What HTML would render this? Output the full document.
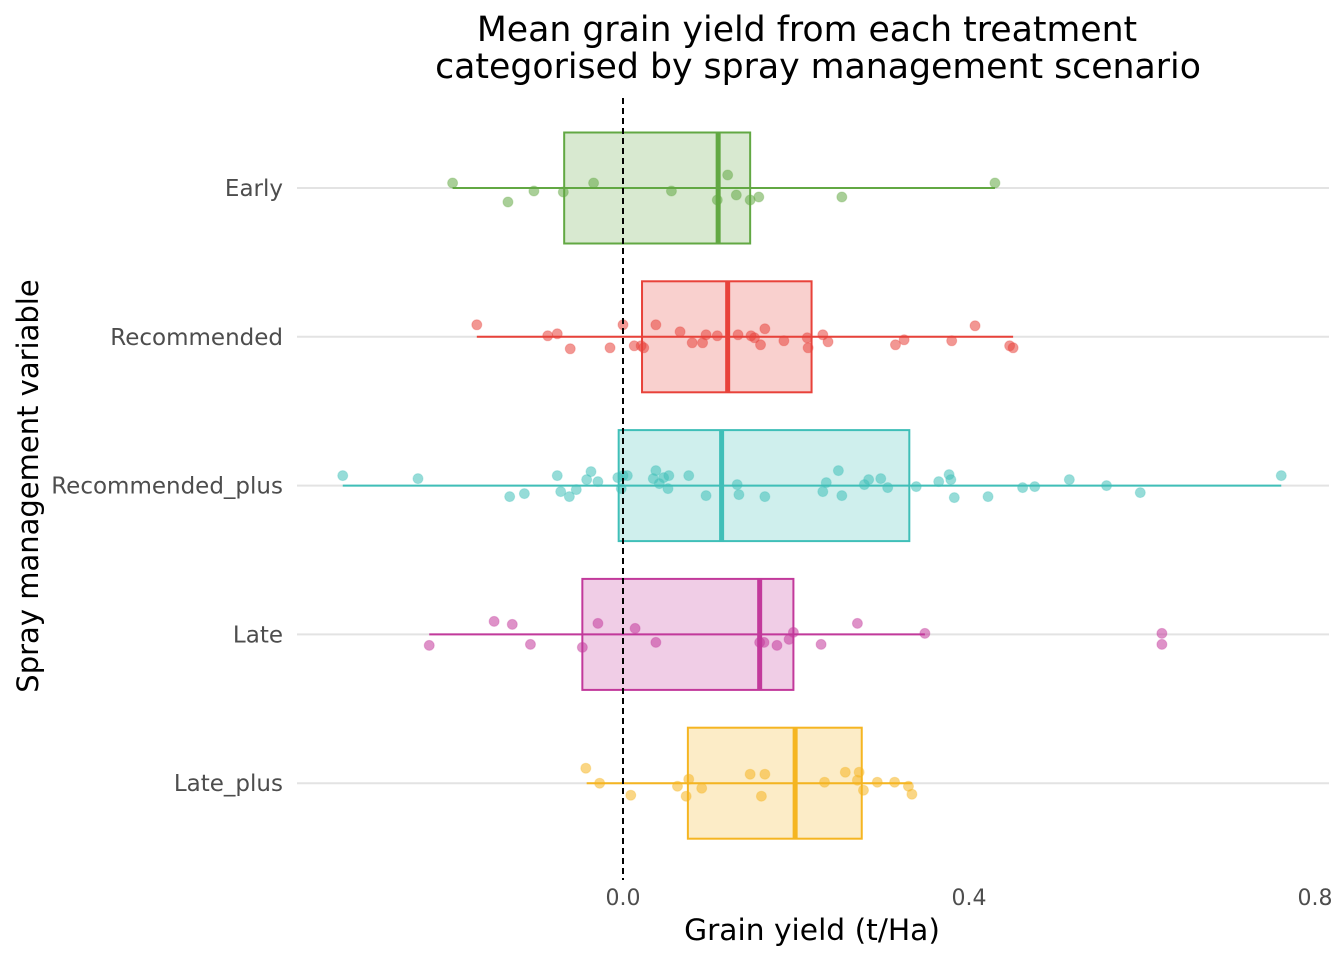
<!DOCTYPE html>
<html><head><meta charset="utf-8"><style>
body{margin:0;background:#fff}
svg{display:block;font-family:"DejaVu Sans","Liberation Sans",sans-serif}
</style></head><body>
<svg id="chart" width="1344" height="960">
<text x="807" y="41" font-size="34.7" text-anchor="middle" fill="#000">Mean grain yield from each treatment</text>
<text x="818" y="78" font-size="34.7" text-anchor="middle" fill="#000">categorised by spray management scenario</text>
<text transform="translate(38,486) rotate(-90)" font-size="29" text-anchor="middle" fill="#000">Spray management variable</text>
<text x="812" y="940" font-size="29.7" text-anchor="middle" fill="#000">Grain yield (t/Ha)</text>
<g id="grid"></g><g id="boxes"></g><g id="pts"></g><g id="labels"></g>
</svg>
<script>
const categories=["Early","Recommended","Recommended_plus","Late","Late_plus"];
const colors=["#62a843","#e8423a","#3fbfb8","#c2399b","#f5b521"];
const q1=[-0.068,0.022,-0.005,-0.047,0.075];
const medians=[0.110,0.121,0.114,0.158,0.199];
const q3=[0.147,0.218,0.331,0.197,0.276];
const whiskLo=[-0.197,-0.169,-0.324,-0.224,-0.042];
const whiskHi=[0.430,0.451,0.761,0.349,0.334];
const xTicks=[0.0,0.4,0.8];
const xTickLabels=["0.0","0.4","0.8"];
const ptsEarly=[-0.197,-0.133,-0.103,-0.069,-0.034,0.056,0.109,0.121,0.131,0.147,0.157,0.253,0.430];
const jitEarly=[-5,14,3,4,-5,3,12,-13,7,12,9,9,-5];
const ptsRec=[-0.169,-0.087,-0.076,-0.061,-0.015,0,0.013,0.021,0.024,0.038,0.066,0.080,0.092,0.096,0.109,0.133,0.148,0.152,0.159,0.164,0.186,0.213,0.214,0.231,0.237,0.315,0.325,0.380,0.407,0.447,0.451];
const jitRec=[-12,-1,-3,12,11,-12,9,9,11,-12,-5,6,6,-2,-1,-2,-1,1,8,-8,4,1,11,-2,5,8,3,4,-11,9,11];
const ptsRecPlus=[-0.324,-0.237,-0.131,-0.114,-0.076,-0.072,-0.062,-0.054,-0.042,-0.037,-0.029,-0.006,0,0.005,-0.002,0.035,0.038,0.042,0.047,0.052,0.053,0.076,0.096,0.132,0.134,0.164,0.231,0.235,0.249,0.253,0.279,0.284,0.298,0.306,0.339,0.365,0.377,0.379,0.383,0.422,0.462,0.476,0.516,0.559,0.598,0.761];
const jitRecPlus=[-10,-7,11,8,-10,6,11,4,-6,-14,-4,-8,-10,-10,3,-7,-15,-2,-8,3,-10,-10,10,-1,9,11,6,-3,-15,10,-1,-6,-7,2,1,-4,-11,-6,12,11,2,1,-6,0,7,-10];
const ptsLate=[-0.224,-0.149,-0.128,-0.107,-0.047,-0.029,0.014,0.038,0.158,0.163,0.178,0.192,0.197,0.229,0.271,0.349,0.623,0.623];
const jitLate=[11,-13,-10,10,13,-11,-6,8,8,8,11,5,-2,10,-11,-1,10,-1];
const ptsLatePlus=[-0.043,-0.027,0.009,0.063,0.073,0.076,0.091,0.147,0.160,0.164,0.233,0.257,0.271,0.273,0.278,0.294,0.314,0.330,0.334];
const jitLatePlus=[-15,0,12,3,13,-4,5,-9,13,-9,-1,-11,-3,-11,7,-1,-1,3,11];
const allPts=[ptsEarly,ptsRec,ptsRecPlus,ptsLate,ptsLatePlus];
const allJit=[jitEarly,jitRec,jitRecPlus,jitLate,jitLatePlus];

const NS="http://www.w3.org/2000/svg";
const xS=v=>623+v*865;
const yS=i=>188+i*148.8;
function mk(tag,attrs,parent){const e=document.createElementNS(NS,tag);for(const k in attrs)e.setAttribute(k,attrs[k]);parent.appendChild(e);return e;}
const G=document.getElementById('grid'),B=document.getElementById('boxes'),P=document.getElementById('pts'),L=document.getElementById('labels');
categories.forEach((c,i)=>{
 const g=mk('line',{x1:297,x2:1329,y1:yS(i),y2:yS(i),stroke:'#e3e3e3','stroke-width':2},G);
 
 
 const t=mk('text',{x:283,y:yS(i)+8,'font-size':23,'text-anchor':'end',fill:'#4d4d4d'},L);
 t.textContent=c;
 
 
});
xTicks.forEach((v,i)=>{
 const t=mk('text',{x:xS(v),y:905,'font-size':22,'text-anchor':'middle',fill:'#4d4d4d'},L);
 t.textContent=xTickLabels[i];
 
 
});
categories.forEach((c,i)=>{
 const y=yS(i),col=colors[i],h=55.5;
 const w=mk('line',{x1:xS(whiskLo[i]),x2:xS(whiskHi[i]),y1:y,y2:y,stroke:col,'stroke-width':2},B);
 
 
 const r=mk('rect',{x:xS(q1[i]),y:y-h,width:xS(q3[i])-xS(q1[i]),height:2*h,fill:col,'fill-opacity':0.25,stroke:col,'stroke-width':2},B);
 
 
 const m=mk('line',{x1:xS(medians[i]),x2:xS(medians[i]),y1:y-h,y2:y+h,stroke:col,'stroke-width':5},B);
 
 
 allPts[i].forEach((v,j)=>{
  const p=mk('circle',{cx:xS(v),cy:y+allJit[i][j],r:5,fill:col,'fill-opacity':0.55,stroke:col,'stroke-opacity':0.3},P);
  
  
 });
});
const z=mk('line',{x1:xS(0),x2:xS(0),y1:98,y2:880,stroke:'#000','stroke-width':2,'stroke-dasharray':'6 4'},P);


</script>
</body></html>
